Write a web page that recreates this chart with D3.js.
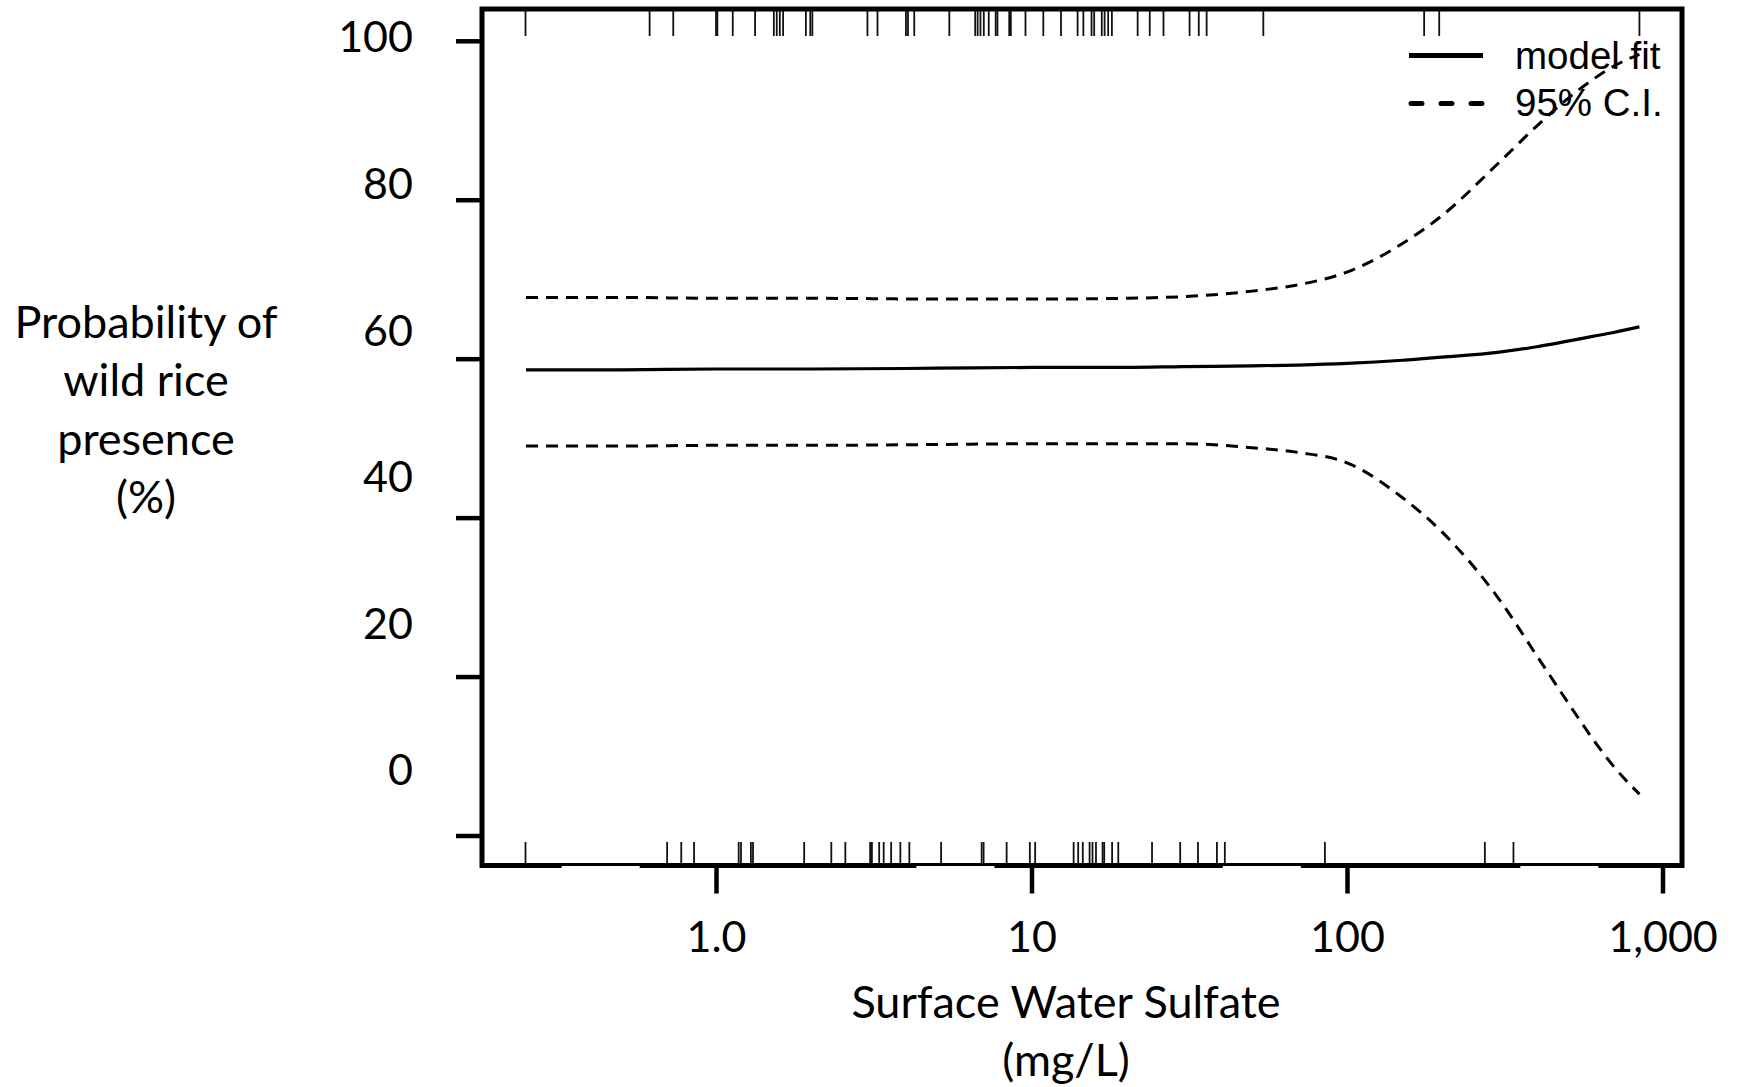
<!DOCTYPE html>
<html>
<head>
<meta charset="utf-8">
<script src="https://cdn.jsdelivr.net/npm/d3@7"></script>
<style>
  body { margin: 0; background: #fff; }
  text { fill: #000; }
</style>
</head>
<body>
<script>
// Sulfate concentrations (mg/L) where the curves were read
const sulfate = [0.25, 0.5, 1, 2, 5, 10, 20, 30, 50, 70, 100, 150, 200, 300, 400, 500, 600, 700, 845]
// Model fit and 95% confidence band (% probability)
const modelFit = [58.6, 58.6, 58.7, 58.7, 58.8, 58.9, 58.9, 59.0, 59.1, 59.2, 59.4, 59.8, 60.2, 60.8, 61.5, 62.2, 62.8, 63.3, 64.0]
const upperCI = [67.7, 67.7, 67.6, 67.6, 67.5, 67.5, 67.6, 67.8, 68.5, 69.3, 70.9, 74.5, 78.0, 84.5, 89.3, 92.7, 95.1, 96.8, 98.3]
const lowerCI = [49.0, 49.0, 49.1, 49.1, 49.2, 49.3, 49.3, 49.3, 48.8, 48.2, 46.9, 42.5, 38.2, 30.0, 22.6, 16.8, 12.2, 8.7, 5.2]

// Rug of sites with wild rice present (top) and absent (bottom)
const rugPresent = [0.249, 0.616, 0.732, 1.0, 1.01, 1.13, 1.33, 1.525, 1.558, 1.593, 1.632, 1.927, 1.99, 2.02,
  3.02, 3.25, 4.0, 4.06, 4.25, 5.49, 6.63, 6.75, 6.89, 7.06, 7.32, 7.7, 7.8, 8.5, 8.6, 9.57, 10.9, 12.4,
  14.0, 14.6, 15.5, 15.8, 16.7, 17.05, 17.5, 17.98, 21.7, 23.7, 26.2, 31.7, 33.9, 35.9, 54.3, 175.6, 196, 845]
const rugAbsent = [0.249, 0.70, 0.776, 0.852, 1.18, 1.2, 1.29, 1.31, 1.903, 2.32, 2.57, 3.08, 3.12, 3.29, 3.40,
  3.59, 3.84, 4.10, 5.17, 6.95, 7.05, 8.34, 9.88, 10.27, 13.6, 14.06, 14.54, 15.28, 15.61, 16.01, 16.8, 17.0,
  18.01, 18.84, 24.1, 29.6, 33.7, 38.7, 41.0, 85.1, 273.5, 337]

// Axis ticks and labels
const xTicks = [1, 10, 100, 1000]
const xTickLabels = ["1.0", "10", "100", "1,000"]
const yTicks = [0, 20, 40, 60, 80, 100]
const yTitle = ["Probability of", "wild rice", "presence", "(%)"]
const xTitle = ["Surface Water Sulfate", "(mg/L)"]
const legendItems = ["model fit", "95% C.I."]
// spots where the bottom frame line is thinner in the original figure
const thinFrameAt = [0.431, 5.74, 53.7, 471]

const w = 1743
const h = 1087
const frame = { left: 482, right: 1682, top: 9, bottom: 865.5 }

const svg = d3.select("body")
              .append("svg")
              .attr("width", w)
              .attr("height", h)

const x = d3.scaleLog().domain([1, 1000]).range([716, 1662.5])
const y = d3.scaleLinear().domain([0, 100]).range([835.5, 40.8])
// tick labels sit on their own spacing in the original figure
const yLabel = d3.scaleLinear().domain([0, 100]).range([770, 37])

const labelFont = "Lato, 'Open Sans', sans-serif"

// Frame
svg.append("rect")
    .attr("x", frame.left)
    .attr("y", frame.top)
    .attr("width", frame.right - frame.left)
    .attr("height", frame.bottom - frame.top)
    .attr("fill", "none")
    .attr("stroke", "#000")
    .attr("stroke-width", 5)

svg.selectAll(".thin")
    .data(thinFrameAt)
    .enter()
    .append("rect")
    .attr("class", "thin")
    .attr("x", d => x(d) - 39)
    .attr("y", frame.bottom + 0.5)
    .attr("width", 78)
    .attr("height", 3)
    .attr("fill", "#fff")

// Y axis ticks
const yAxis = svg.append("g")
                  .attr("transform", `translate(${frame.left - 2}, 0)`)
                  .call(d3.axisLeft(y).tickValues(yTicks).tickSize(24).tickFormat(""))
yAxis.select(".domain").remove()
yAxis.selectAll("line").attr("stroke", "#000").attr("stroke-width", 4.5)

svg.append("g")
    .selectAll("text")
    .data(yTicks)
    .enter()
    .append("text")
    .text(d => d)
    .attr("x", 413)
    .attr("y", d => yLabel(d))
    .attr("dy", "0.36em")
    .attr("text-anchor", "end")
    .style("font-family", labelFont)
    .style("font-size", "43px")

// X axis
const xAxis = svg.append("g")
                  .attr("transform", `translate(0, ${frame.bottom + 2})`)
                  .call(d3.axisBottom(x)
                          .tickValues(xTicks)
                          .tickSize(26)
                          .tickPadding(28)
                          .tickFormat((d, i) => xTickLabels[i]))
xAxis.select(".domain").remove()
xAxis.selectAll("line").attr("stroke", "#000").attr("stroke-width", 4.5)
xAxis.selectAll("text")
      .attr("fill", "#000")
      .style("font-family", labelFont)
      .style("font-size", "43px")

// Rugs
svg.append("g")
    .selectAll("line")
    .data(rugPresent)
    .enter()
    .append("line")
    .attr("x1", d => x(d))
    .attr("x2", d => x(d))
    .attr("y1", frame.top + 2)
    .attr("y2", 36)
    .attr("stroke", "#111")
    .attr("stroke-width", 1.8)

svg.append("g")
    .selectAll("line")
    .data(rugAbsent)
    .enter()
    .append("line")
    .attr("x1", d => x(d))
    .attr("x2", d => x(d))
    .attr("y1", 842)
    .attr("y2", frame.bottom - 2)
    .attr("stroke", "#111")
    .attr("stroke-width", 1.8)

// Curves
const line = d3.line()
                .x(d => x(d[0]))
                .y(d => y(d[1]))
                .curve(d3.curveMonotoneX)

const series = [
  { values: modelFit, dash: null, width: 3.2 },
  { values: upperCI, dash: "12 8", width: 3 },
  { values: lowerCI, dash: "12 8", width: 3 }
]

svg.selectAll(".curve")
    .data(series)
    .enter()
    .append("path")
    .attr("class", "curve")
    .attr("d", s => line(sulfate.map((v, i) => [v, s.values[i]])))
    .attr("fill", "none")
    .attr("stroke", "#000")
    .attr("stroke-width", s => s.width)
    .attr("stroke-dasharray", s => s.dash)

// Legend
const legend = svg.append("g")
                  .selectAll("g")
                  .data(legendItems)
                  .enter()
                  .append("g")
                  .attr("transform", (d, i) => `translate(1409, ${55.6 + i * 47.8})`)

legend.append("line")
      .attr("x1", 0)
      .attr("x2", 74)
      .attr("stroke", "#000")
      .attr("stroke-width", 5)
      .attr("stroke-linecap", (d, i) => i ? "round" : "butt")
      .attr("stroke-dasharray", (d, i) => i ? "11 19" : null)
      .attr("transform", (d, i) => i ? "translate(2,0)" : null)

legend.append("text")
      .text(d => d)
      .attr("x", 106)
      .attr("y", 13)
      .style("font-family", "'Liberation Sans', Arial, sans-serif")
      .style("font-size", "38.5px")

// Axis titles
svg.append("g")
    .selectAll("text")
    .data(yTitle)
    .enter()
    .append("text")
    .text(d => d)
    .attr("x", 146)
    .attr("y", (d, i) => 322 + i * 58.2)
    .attr("dy", "0.36em")
    .attr("text-anchor", "middle")
    .style("font-family", labelFont)
    .style("font-size", "45px")

svg.append("g")
    .selectAll("text")
    .data(xTitle)
    .enter()
    .append("text")
    .text(d => d)
    .attr("x", 1066)
    .attr("y", (d, i) => 1002 + i * 58)
    .attr("dy", "0.36em")
    .attr("text-anchor", "middle")
    .style("font-family", labelFont)
    .style("font-size", "45px")
</script>
</body>
</html>
